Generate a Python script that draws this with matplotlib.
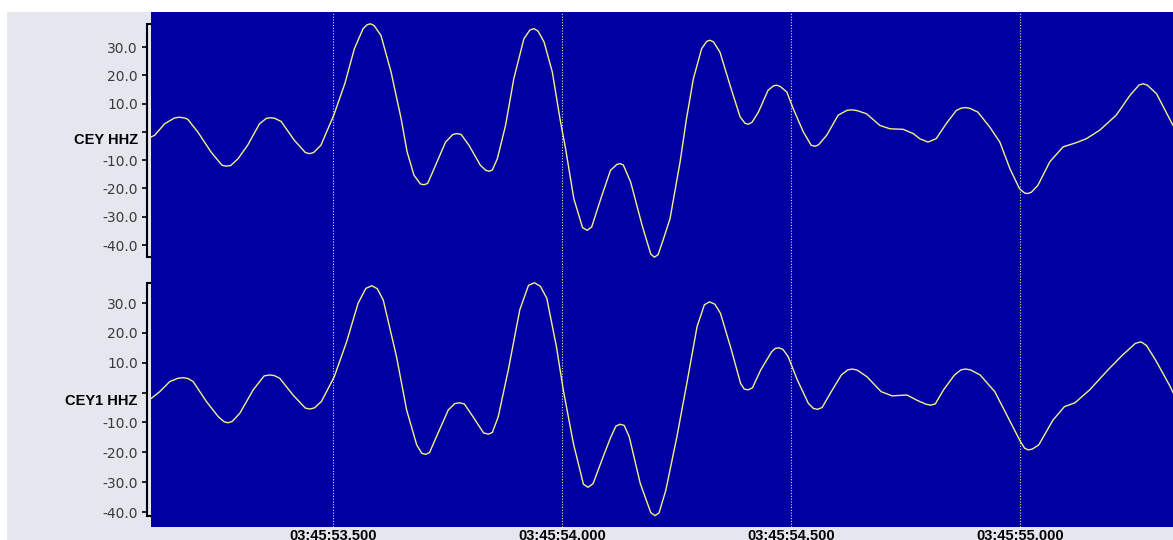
import matplotlib
matplotlib.use("Agg")
import matplotlib.pyplot as plt
from matplotlib.patches import Rectangle

# seconds after 03:45:53 and amplitude
t_cey = [0.103, 0.111, 0.133, 0.154, 0.165, 0.176, 0.183, 0.205, 0.234, 0.258,
         0.267, 0.277, 0.293, 0.314, 0.340, 0.355, 0.364, 0.373, 0.387, 0.416,
         0.440, 0.449, 0.458, 0.474, 0.502, 0.526, 0.547, 0.566, 0.575, 0.582,
         0.590, 0.605, 0.627, 0.649, 0.662, 0.677, 0.691, 0.699, 0.707, 0.721,
         0.746, 0.762, 0.771, 0.780, 0.797, 0.822, 0.834, 0.841, 0.848, 0.859,
         0.877, 0.895, 0.917, 0.930, 0.939, 0.948, 0.961, 0.979, 0.997, 1.008,
         1.026, 1.045, 1.055, 1.065, 1.085, 1.106, 1.120, 1.127, 1.134, 1.150,
         1.175, 1.194, 1.202, 1.210, 1.221, 1.236, 1.258, 1.272, 1.287, 1.305,
         1.316, 1.323, 1.331, 1.345, 1.367, 1.389, 1.400, 1.407, 1.415, 1.429,
         1.450, 1.462, 1.469, 1.477, 1.491, 1.505, 1.527, 1.544, 1.552, 1.560,
         1.578, 1.603, 1.622, 1.633, 1.645, 1.665, 1.694, 1.716, 1.745, 1.767,
         1.781, 1.799, 1.817, 1.839, 1.861, 1.872, 1.881, 1.891, 1.908, 1.934,
         1.956, 1.978, 1.999, 2.010, 2.017, 2.025, 2.039, 2.065, 2.094, 2.123,
         2.145, 2.174, 2.210, 2.240, 2.260, 2.269, 2.278, 2.298, 2.319, 2.334]
v_cey = [-1.8, -1.2, 2.9, 4.9, 5.2, 4.9, 4.5, 0.0, -7.1, -11.8,
         -12.1, -11.9, -9.5, -4.7, 2.9, 4.8, 5.0, 4.8, 3.7, -3.0,
         -7.3, -7.7, -7.3, -4.7, 5.9, 17.0, 29.4, 36.5, 37.9, 38.2,
         37.6, 34.1, 21.2, 4.7, -7.0, -15.3, -18.4, -18.7, -18.2, -13.0,
         -3.6, -0.9, -0.6, -0.9, -4.7, -11.8, -13.6, -13.9, -13.5, -9.5,
         2.3, 18.8, 32.9, 36.0, 36.5, 35.6, 31.8, 21.2, 3.5, -5.9,
         -23.6, -33.8, -34.8, -33.6, -23.6, -13.6, -11.5, -11.2, -11.7, -17.7,
         -33.0, -43.2, -44.3, -43.4, -38.2, -30.7, -10.6, 4.7, 18.8, 29.4,
         32.0, 32.4, 31.8, 28.2, 16.5, 5.3, 3.0, 2.7, 3.4, 7.0,
         14.7, 16.3, 16.5, 16.0, 14.1, 8.2, 0.0, -4.7, -5.1, -4.6,
         -1.2, 5.9, 7.6, 7.8, 7.5, 6.4, 2.3, 1.1, 0.9, -0.6,
         -2.4, -3.6, -2.4, 2.9, 7.6, 8.4, 8.6, 8.3, 7.0, 1.7,
         -3.6, -13.0, -20.1, -21.6, -21.8, -21.3, -18.9, -10.6, -5.3, -3.8,
         -2.4, 0.6, 5.9, 12.9, 16.6, 17.0, 16.5, 13.5, 7.0, 2.3]

t_cey1 = [0.104, 0.122, 0.144, 0.162, 0.173, 0.184, 0.195, 0.224, 0.250, 0.263,
          0.271, 0.280, 0.297, 0.326, 0.350, 0.362, 0.372, 0.384, 0.413, 0.440,
          0.450, 0.460, 0.475, 0.503, 0.530, 0.555, 0.572, 0.585, 0.597, 0.610,
          0.639, 0.661, 0.683, 0.694, 0.702, 0.711, 0.726, 0.752, 0.766, 0.776,
          0.787, 0.806, 0.829, 0.839, 0.848, 0.861, 0.883, 0.908, 0.927, 0.940,
          0.953, 0.967, 0.988, 1.003, 1.025, 1.047, 1.057, 1.068, 1.090, 1.107,
          1.118, 1.127, 1.136, 1.147, 1.171, 1.194, 1.203, 1.212, 1.227, 1.251,
          1.274, 1.295, 1.311, 1.322, 1.334, 1.346, 1.370, 1.390, 1.398, 1.406,
          1.416, 1.434, 1.458, 1.466, 1.474, 1.483, 1.494, 1.514, 1.538, 1.549,
          1.558, 1.568, 1.586, 1.610, 1.624, 1.634, 1.645, 1.666, 1.697, 1.721,
          1.753, 1.777, 1.795, 1.805, 1.815, 1.833, 1.857, 1.871, 1.881, 1.892,
          1.913, 1.945, 1.977, 2.001, 2.010, 2.018, 2.027, 2.041, 2.072, 2.097,
          2.120, 2.152, 2.192, 2.224, 2.252, 2.264, 2.276, 2.296, 2.328, 2.334]
v_cey1 = [-1.9, 0.3, 3.7, 4.8, 5.0, 4.7, 3.7, -3.0, -8.1, -9.8,
          -10.1, -9.7, -6.9, 0.9, 5.6, 5.9, 5.7, 4.8, -0.8, -5.2,
          -5.5, -5.1, -3.0, 5.3, 17.0, 29.9, 34.9, 35.8, 34.8, 31.0,
          12.0, -5.8, -17.5, -20.3, -20.7, -20.1, -14.8, -5.8, -3.7, -3.4,
          -3.8, -8.1, -13.5, -13.9, -13.4, -8.1, 7.6, 27.7, 35.9, 36.8,
          35.6, 31.6, 15.4, 0.9, -17.0, -30.7, -31.7, -30.5, -21.5, -14.8,
          -11.2, -10.6, -11.0, -14.8, -30.4, -40.2, -41.2, -40.3, -32.6, -14.8,
          4.2, 22.1, 29.4, 30.4, 29.6, 26.6, 14.3, 3.1, 1.2, 0.9,
          1.6, 7.6, 13.7, 14.8, 15.0, 14.4, 12.0, 4.2, -3.6, -5.3,
          -5.6, -5.0, -0.2, 5.9, 7.6, 7.9, 7.5, 5.3, 0.3, -1.1,
          -0.8, -2.7, -3.9, -4.2, -3.8, 0.9, 5.9, 7.6, 7.9, 7.6,
          5.9, 0.3, -9.2, -16.4, -18.6, -19.2, -18.9, -17.5, -9.2, -4.7,
          -3.4, 0.9, 7.6, 12.6, 16.5, 17.0, 15.8, 10.9, 2.0, 0.0]

stations = ["CEY HHZ", "CEY1 HHZ"]
y_ticks = [-40, -30, -20, -10, 0, 10, 20, 30]
time_ticks = [0.5, 1.0, 1.5, 2.0]
time_labels = ["03:45:53.500", "03:45:54.000", "03:45:54.500", "03:45:55.000"]

bg_blue = "#0000a2"
trace_col = "#f4f08a"
panel_grey = "#e6e6ee"

fig = plt.figure(figsize=(11.73, 5.40), dpi=100, facecolor="white")
fig.patches.append(Rectangle((7 / 1173, 0), 1, 528 / 540, transform=fig.transFigure,
                             facecolor=panel_grey, edgecolor="none", zorder=-10))

left = 151 / 1173
width = 1 - left
ax1 = fig.add_axes([left, 270 / 540, width, 258 / 540])
ax2 = fig.add_axes([left, 13 / 540, width, 257 / 540], sharex=ax1)

traces = [(ax1, t_cey, v_cey, (-48.82, 42.38)),
          (ax2, t_cey1, v_cey1, (-45.01, 41.06))]

for (ax, t, v, ylim), name in zip(traces, stations):
    ax.set_facecolor(bg_blue)
    ax.plot(t, v, color=trace_col, lw=1.0, zorder=3)
    for x in time_ticks:
        ax.axvline(x, color="#e4e4b4", lw=0.8, ls=(0, (1, 1.5)), zorder=2)
    ax.set_xlim(0.103, 2.334)
    ax.set_ylim(*ylim)
    for s in ["top", "right", "bottom"]:
        ax.spines[s].set_visible(False)
    ax.spines["left"].set_position(("outward", 3))
    ax.spines["left"].set_bounds(min(v), max(v))
    ax.spines["left"].set_linewidth(1.5)
    ax.set_yticks(y_ticks)
    ax.set_yticklabels(["" if y == 0 else "%.1f" % y for y in y_ticks])
    ax.tick_params(axis="y", length=3.5, width=1.2, pad=3, labelsize=10,
                   labelcolor="#3a3a3a")
    ax.set_yticks([min(v), max(v)], minor=True)
    ax.tick_params(axis="y", which="minor", direction="in", length=3, width=1.5)
    ax.annotate(name, xy=(0, 0), xycoords=("axes fraction", "data"),
                xytext=(-9.6, -1.0), textcoords="offset points",
                ha="right", va="top", fontsize=10.5, fontweight="bold",
                family="Liberation Sans", color="black")

ax1.tick_params(axis="x", bottom=False, labelbottom=False)
ax2.set_xticks(time_ticks)
ax2.set_xticklabels(time_labels, fontsize=10.5, fontweight="bold",
                    family="Liberation Sans")
ax2.tick_params(axis="x", length=0, pad=1.5)

fig.savefig("out.png", dpi=100, facecolor=fig.get_facecolor())
